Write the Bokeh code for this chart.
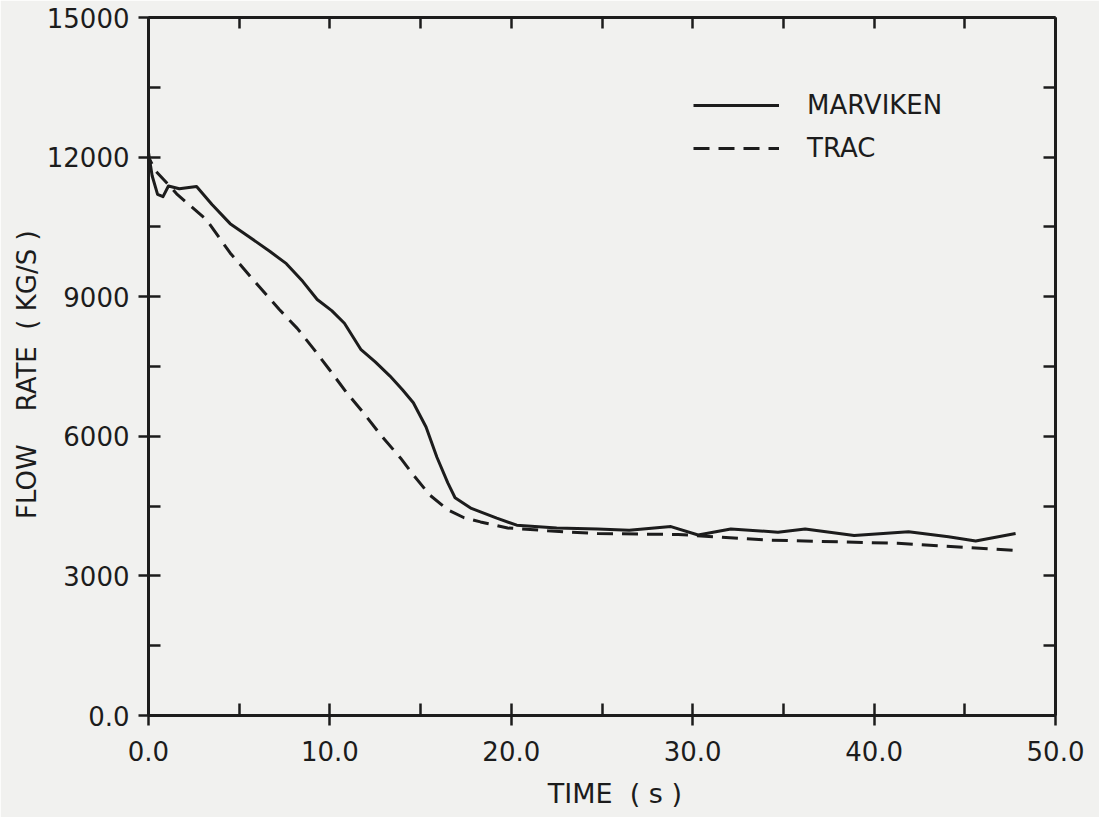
from bokeh.plotting import figure
from bokeh.models import Range1d, LinearAxis, FixedTicker, Legend, LegendItem
from bokeh.embed import file_html
from bokeh.resources import INLINE

# ---- data ----
marviken_t = [0.0, 0.0, 0.2, 0.5, 0.8, 1.1, 1.7, 2.65, 3.5, 4.5, 5.5, 6.7, 7.6, 8.5, 9.3,
              10.1, 10.8, 11.7, 12.5, 13.3, 14.0, 14.6, 15.3, 15.9, 16.5, 16.9, 17.8, 19.2,
              20.3, 22.5, 24.75, 26.5, 28.8, 30.3, 32.1, 34.7, 36.2, 38.9, 41.9, 44.1, 45.6, 47.8]
marviken_v = [0, 12100, 11600, 11200, 11150, 11380, 11320, 11370, 10980, 10570, 10300, 9970,
              9710, 9330, 8940, 8700, 8430, 7870, 7600, 7300, 7000, 6720, 6200, 5550, 5000,
              4680, 4450, 4240, 4090, 4030, 4010, 3980, 4060, 3880, 4010, 3940, 4010, 3870,
              3950, 3840, 3750, 3910]

trac_t = [0.0, 0.0, 0.4, 1.0, 1.55, 3.2, 4.5, 5.8, 7.2, 8.2, 9.1, 10.0, 10.9, 11.9, 12.8,
          13.9, 14.6, 15.5, 16.5, 17.4, 18.3, 19.8, 22.0, 24.75, 29.2, 34.1, 41.3, 47.8]
trac_v = [0, 12000, 11700, 11450, 11210, 10650, 9940, 9350, 8730, 8320, 7880, 7420, 6950,
          6480, 6030, 5530, 5170, 4740, 4420, 4250, 4160, 4030, 3970, 3910, 3890, 3770,
          3700, 3550]

x_major = [0, 10, 20, 30, 40, 50]
x_minor = [5, 15, 25, 35, 45]
x_labels = ["0.0", "10.0", "20.0", "30.0", "40.0", "50.0"]
y_major = [0, 3000, 6000, 9000, 12000, 15000]
y_minor = [1500, 4500, 7500, 10500, 13500]
y_labels = ["0.0", "3000", "6000", "9000", "12000", "15000"]

FONT = "DejaVu Sans"
INK = "#1c1c1c"
BG = "#f1f1ef"
NB = "\u00a0"

p = figure(width=1099, height=817, output_backend="svg", toolbar_location=None,
           x_range=Range1d(0, 50), y_range=Range1d(0, 15000),
           x_axis_type=None, y_axis_type=None,
           min_border_left=148, min_border_right=44, min_border_top=17, min_border_bottom=102)
p.background_fill_color = BG
p.border_fill_color = BG
p.outline_line_color = None
p.xgrid.visible = False
p.ygrid.visible = False


def style_axis(ax, labels_on, major_out, tick_len):
    ax.axis_line_color = INK
    ax.axis_line_width = 3
    ax.major_tick_line_color = INK
    ax.major_tick_line_width = 2.5
    ax.minor_tick_line_color = INK
    ax.minor_tick_line_width = 2.5
    ax.major_tick_in = tick_len
    ax.major_tick_out = major_out
    ax.minor_tick_in = tick_len
    ax.minor_tick_out = 0
    ax.major_label_text_font = FONT
    ax.major_label_text_font_size = "26px"
    ax.major_label_text_color = INK if labels_on else None
    ax.axis_label_text_font = FONT
    ax.axis_label_text_font_style = "normal"
    ax.axis_label_text_color = INK


xb = LinearAxis(ticker=FixedTicker(ticks=x_major, minor_ticks=x_minor),
                major_label_overrides=dict(zip(x_major, x_labels)))
style_axis(xb, True, 10, 12)
xb.major_label_standoff = 15
xb.axis_label = NB * 3 + "TIME" + NB + " (" + NB + "s" + NB + ")"
xb.axis_label_text_font_size = "27px"
xb.axis_label_standoff = 14
p.add_layout(xb, "below")

xt = LinearAxis(ticker=FixedTicker(ticks=x_major, minor_ticks=x_minor))
style_axis(xt, False, 0, 11)
xt.major_label_text_font_size = "0px"
p.add_layout(xt, "above")

yl = LinearAxis(ticker=FixedTicker(ticks=y_major, minor_ticks=y_minor),
                major_label_overrides=dict(zip(y_major, y_labels)))
style_axis(yl, True, 10, 12)
yl.major_label_standoff = 9
yl.axis_label = "FLOW" + NB * 4 + "RATE" + NB * 2 + "(" + NB + "KG/S" + NB + ")" + NB * 2
yl.axis_label_text_font_size = "26px"
yl.axis_label_standoff = 2
p.add_layout(yl, "left")

yr = LinearAxis(ticker=FixedTicker(ticks=y_major, minor_ticks=y_minor))
style_axis(yr, False, 0, 12)
yr.major_label_text_font_size = "0px"
p.add_layout(yr, "right")

r_m = p.line(marviken_t, marviken_v, line_color=INK, line_width=3, line_join="round")
r_t = p.line(trac_t, trac_v, line_color=INK, line_width=3, line_dash="16 9")

legend = Legend(items=[LegendItem(label="MARVIKEN", renderers=[r_m]),
                       LegendItem(label="TRAC", renderers=[r_t])],
                location=(545, 552), orientation="vertical",
                glyph_width=86, glyph_height=20, label_height=20, spacing=13,
                label_standoff=28, padding=0, margin=0,
                border_line_alpha=0, background_fill_alpha=0,
                label_text_font=FONT, label_text_font_size="26px",
                label_text_color=INK)
p.add_layout(legend, "center")

open("out.html", "w").write(file_html(p, INLINE))
